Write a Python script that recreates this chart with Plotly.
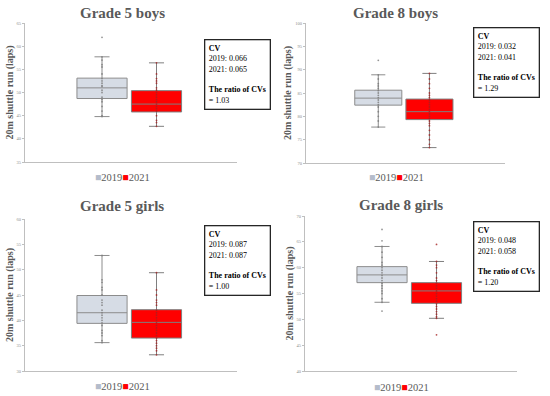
import plotly.graph_objects as go

# ---------------- data ----------------
panel_titles = ["Grade 5 boys", "Grade 8 boys", "Grade 5 girls", "Grade 8 girls"]
years = ["2019", "2021"]

# box statistics per panel: [2019, 2021]
q1 = [[48.7, 45.8], [82.4, 79.3], [39.4, 36.5], [57.1, 53.1]]
median = [[51.0, 47.5], [83.9, 81.0], [41.5, 39.6], [58.6, 55.5]]
q3 = [[53.1, 50.4], [85.6, 83.7], [44.9, 42.1], [60.2, 57.1]]
lowerfence = [[44.8, 42.7], [77.7, 73.3], [35.6, 33.2], [53.3, 50.2]]
upperfence = [[57.7, 56.4], [88.9, 89.2], [52.8, 49.4], [64.1, 61.2]]

# visible individual points (laps)
points_2019 = [
    [61.9, 57.7, 57.0, 56.0, 55.5, 54.0, 53.0, 52.5, 52.0, 51.5, 51.3, 50.5, 50.0, 49.0, 48.5, 48.0, 47.0, 46.0, 45.0, 44.8],
    [92.0, 88.9, 88.0, 87.0, 86.5, 86.0, 85.5, 85.0, 84.5, 84.0, 83.5, 83.0, 82.5, 82.0, 81.0, 80.0, 79.0, 77.7],
    [52.8, 48.0, 47.5, 46.5, 46.0, 45.0, 44.0, 43.5, 43.0, 42.0, 41.5, 41.0, 40.5, 40.0, 39.5, 39.0, 38.0, 37.5, 37.0, 36.0, 35.6],
    [67.4, 65.2, 64.1, 63.0, 62.0, 61.0, 60.5, 60.0, 59.5, 59.0, 58.5, 58.0, 57.5, 57.0, 56.5, 56.0, 55.5, 55.0, 54.0, 53.3, 51.6],
]
points_2021 = [
    [56.4, 54.0, 53.0, 52.5, 52.0, 51.0, 50.5, 50.0, 49.5, 49.0, 48.5, 48.0, 47.5, 47.0, 46.5, 46.0, 45.0, 44.0, 43.5, 42.7],
    [89.2, 88.0, 87.0, 86.0, 85.0, 84.5, 84.0, 83.5, 83.0, 82.5, 82.0, 81.5, 81.0, 80.5, 80.0, 79.5, 79.0, 78.5, 78.0, 77.0, 76.0, 75.0, 74.0, 73.3],
    [49.4, 46.0, 45.0, 44.0, 43.5, 43.0, 42.0, 41.5, 41.0, 40.5, 40.0, 39.5, 39.0, 38.5, 38.0, 37.5, 37.0, 36.5, 36.0, 35.5, 35.0, 34.5, 34.0, 33.2],
    [64.5, 61.2, 60.5, 60.0, 59.0, 58.0, 57.5, 57.0, 56.5, 56.0, 55.5, 55.0, 54.5, 54.0, 53.5, 53.0, 52.5, 52.0, 51.5, 51.0, 50.5, 50.2, 47.0],
]

cv_2019 = ["0.066", "0.032", "0.087", "0.048"]
cv_2021 = ["0.065", "0.041", "0.087", "0.058"]
cv_ratio = ["1.03", "1.29", "1.00", "1.20"]

y_ranges = [[35, 65], [70, 100], [30, 60], [40, 70]]

# ---------------- layout geometry (pixels in 550x396) ----------------
W, H = 550, 396
plot_px = [  # x0, x1, ytop, ybottom
    (25, 237, 23, 162),
    (306, 505, 23, 163),
    (25, 237, 219, 371),
    (305, 517, 216, 371),
]
title_px = [(122, 13), (395, 13), (122, 206), (401, 205)]
legend_px = [(122, 177), (396, 177), (122, 386), (401, 387)]
cvbox_px = [(204, 39), (473, 27), (204, 225), (473, 221)]

fill_colors = ["#d6dce5", "#ff0000"]
line_colors = ["#8c8c8c", "#7f7f7f"]
dot_colors = ["#7a7a7a", "#a52020"]
serif = "Liberation Serif, Times New Roman, serif"
gray_text = "#595959"

fig = go.Figure()
annotations = []
layout_axes = {}

for i in range(4):
    ax = "" if i == 0 else str(i + 1)
    xref, yref = "x" + ax, "y" + ax
    pts = [points_2019[i], points_2021[i]]
    for j in range(2):
        fig.add_trace(go.Box(
            x=[j], q1=[q1[i][j]], median=[median[i][j]], q3=[q3[i][j]],
            lowerfence=[lowerfence[i][j]], upperfence=[upperfence[i][j]],
            width=0.92, whiskerwidth=0.3,
            fillcolor=fill_colors[j], line=dict(color=line_colors[j], width=1),
            name=years[j], showlegend=False, boxpoints=False,
            xaxis=xref, yaxis=yref, hoverinfo="skip",
        ))
        fig.add_trace(go.Scatter(
            x=[j] * len(pts[j]), y=pts[j], mode="markers",
            marker=dict(size=1.8, color=dot_colors[j], opacity=0.8),
            showlegend=False, xaxis=xref, yaxis=yref, hoverinfo="skip",
        ))

    x0, x1, yt, yb = plot_px[i]
    layout_axes["xaxis" + ax] = dict(
        domain=[x0 / W, x1 / W], range=[-1.413, 2.477], anchor=yref,
        showline=True, linecolor="#bfbfbf", linewidth=1, automargin=False,
        showticklabels=False, ticks="", showgrid=False, zeroline=False,
    )
    layout_axes["yaxis" + ax] = dict(
        domain=[1 - yb / H, 1 - yt / H], range=y_ranges[i], dtick=5, anchor=xref,
        showline=True, linecolor="#bfbfbf", linewidth=1, automargin=False,
        ticks="outside", ticklen=2, tickcolor="#bfbfbf",
        tickfont=dict(size=4.5, color="#8c8c8c", family=serif),
        showgrid=False, zeroline=False,
        title=dict(text="<b>20m shuttle run (laps)</b>", standoff=1,
                   font=dict(family=serif, size=10, color=gray_text)),
    )

    tx, ty = title_px[i]
    annotations.append(dict(
        text="<b>" + panel_titles[i] + "</b>", x=tx / W, y=1 - ty / H,
        xref="paper", yref="paper", xanchor="center", yanchor="middle",
        showarrow=False, font=dict(family=serif, size=15, color=gray_text),
    ))
    lx, ly = legend_px[i]
    annotations.append(dict(
        text=("<span style='color:#b4bccb'>■</span>" + years[0]
              + "<span style='color:#ff0000'>■</span>" + years[1]),
        x=lx / W, y=1 - ly / H, xref="paper", yref="paper",
        xanchor="center", yanchor="middle", showarrow=False,
        font=dict(family=serif, size=10.5, color=gray_text),
    ))
    bx, by = cvbox_px[i]
    annotations.append(dict(
        text=("<b>CV</b><br>2019: " + cv_2019[i] + "<br>2021: " + cv_2021[i]
              + "<br><br><b>The ratio of CVs</b><br>= " + cv_ratio[i]),
        x=bx / W, y=1 - by / H, xref="paper", yref="paper",
        xanchor="left", yanchor="top", align="left", showarrow=False,
        font=dict(family=serif, size=8, color="#000000"),
        bordercolor="#262626", borderwidth=1.3, borderpad=3.5, bgcolor="white",
    ))

fig.update_layout(
    width=W, height=H, margin=dict(l=0, r=0, t=0, b=0),
    paper_bgcolor="white", plot_bgcolor="white",
    annotations=annotations, showlegend=False,
    **layout_axes,
)

fig.write_html("out.html", config={"displayModeBar": False},
               post_script="document.body.style.margin='0';")
